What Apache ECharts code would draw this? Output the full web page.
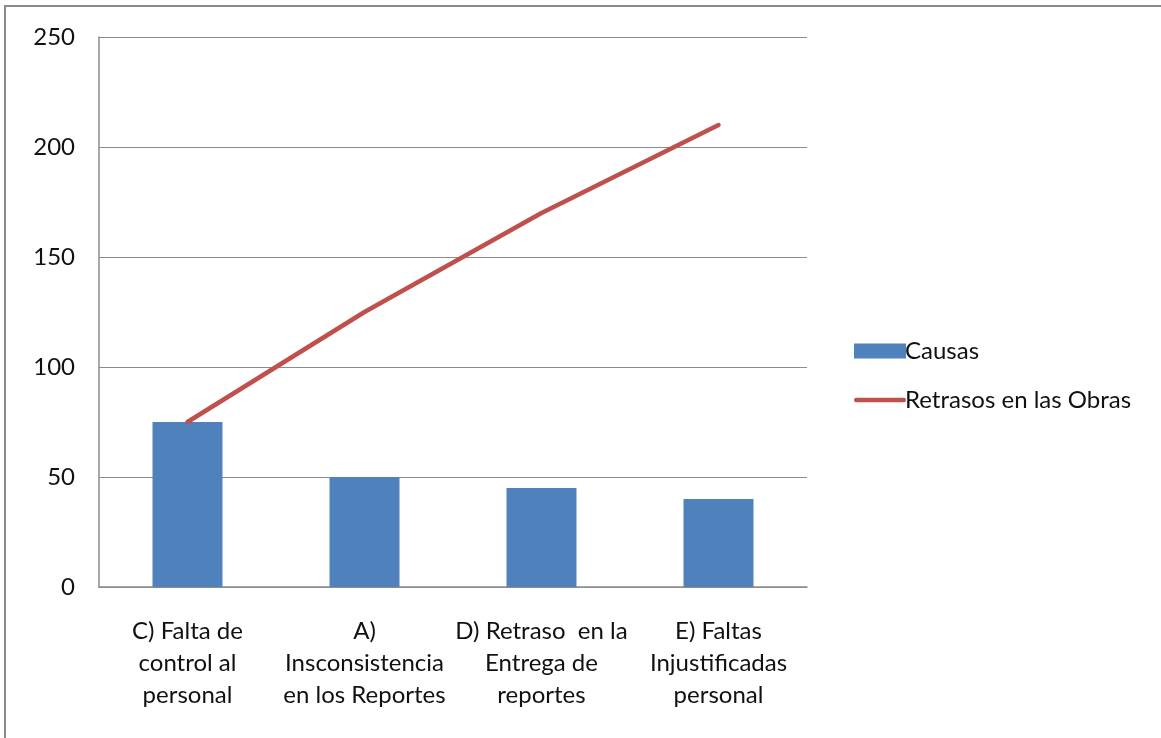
<!DOCTYPE html>
<html><head><meta charset="utf-8">
<script src="https://cdn.jsdelivr.net/npm/echarts@6/dist/echarts.min.js"></script>
<style>html,body{margin:0;padding:0;background:#fff}#c{width:1161px;height:738px}</style>
</head><body><div id="c"></div>
<script>
const categories = ["C) Falta de\ncontrol al\npersonal", "A)\nInsconsistencia\nen los Reportes", "D) Retraso  en la\nEntrega de\nreportes", "E) Faltas\nInjustificadas\npersonal"];
const causas = [75, 50, 45, 40];
const retrasos = [75, 125, 170, 210];
const yTicks = [0, 50, 100, 150, 200, 250];
const FONT = 'Lato, "Open Sans", sans-serif';
const FS = 24;
const chart = echarts.init(document.getElementById('c'));
chart.setOption({
  animation: false,
  backgroundColor: '#fff',
  textStyle: { fontFamily: FONT },
  graphic: [{ type: 'rect', shape: { x: 5, y: 6, width: 2000, height: 2000 }, style: { fill: 'none', stroke: '#8a8a8a', lineWidth: 2 }, silent: true }],
  grid: { left: 99, right: 354, top: 37, bottom: 151 },
  legend: {
    orient: 'vertical', left: 849, top: 334, itemWidth: 52, itemHeight: 15, itemGap: 25,
    textStyle: { fontFamily: FONT, fontSize: FS, color: '#111', padding: [0, 0, 0, -6] },
    data: [
      { name: 'Causas', icon: 'rect' },
      { name: 'Retrasos en las Obras', icon: 'path://M2,0h49a2,2 0 0 1 0,4.5h-49a2,2 0 0 1 0,-4.5z', itemStyle: { color: '#c0504d' } }
    ]
  },
  xAxis: {
    type: 'category', data: categories,
    axisLine: { lineStyle: { color: '#8c8c8c', width: 1.5 } },
    axisTick: { show: false },
    axisLabel: { fontFamily: FONT, fontSize: FS, color: '#111', lineHeight: 32, margin: 28, interval: 0 }
  },
  yAxis: {
    type: 'value', min: 0, max: 250, interval: 50,
    axisLine: { show: true, lineStyle: { color: '#8c8c8c', width: 1.5 } },
    axisTick: { show: false },
    splitLine: { lineStyle: { color: '#8c8c8c', width: 1.2 } },
    axisLabel: { fontFamily: FONT, fontSize: FS, color: '#111', margin: 24,
      formatter: v => yTicks.includes(v) ? String(v) : '' }
  },
  series: [
    { name: 'Causas', type: 'bar', data: causas, barWidth: 70, itemStyle: { color: '#4f81bd' } },
    { name: 'Retrasos en las Obras', type: 'line', data: retrasos, symbol: 'none', showSymbol: false,
      lineStyle: { color: '#c0504d', width: 4.5, cap: 'round' }, itemStyle: { color: '#c0504d' } }
  ]
});
</script></body></html>
